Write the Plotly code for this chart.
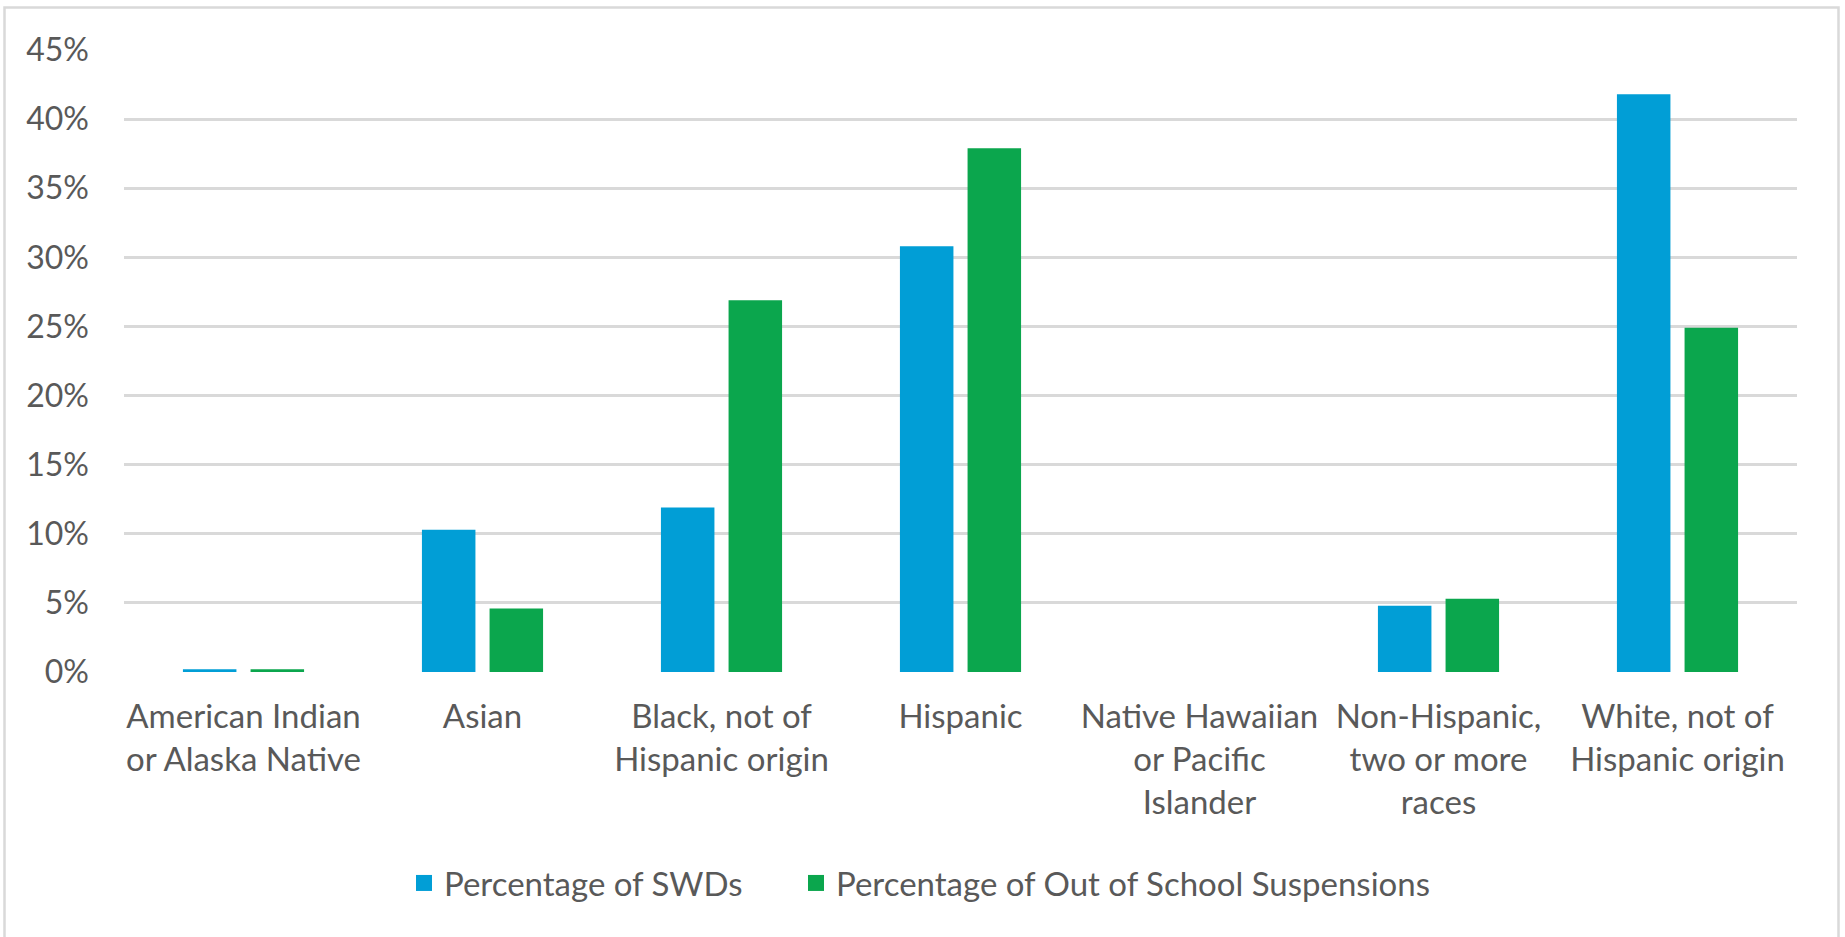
import plotly.graph_objects as go

# Race / ethnicity groups (x-axis categories, line-broken as printed)
categories = [
    "American Indian<br>or Alaska Native",
    "Asian",
    "Black, not of<br>Hispanic origin",
    "Hispanic",
    "Native Hawaiian<br>or Pacific<br>Islander",
    "Non-Hispanic,<br>two or more<br>races",
    "White, not of<br>Hispanic origin",
]

# Percent values per group
pct_swds = [0.2, 10.3, 11.9, 30.8, 0.0, 4.8, 41.8]
pct_suspensions = [0.2, 4.6, 26.9, 37.9, 0.0, 5.3, 24.9]

series_names = ["Percentage of SWDs", "Percentage of Out of School Suspensions"]
series_colors = ["#019ED6", "#0BA64D"]
y_ticks = [0, 5, 10, 15, 20, 25, 30, 35, 40, 45]
y_tick_labels = [f"{v}%" for v in y_ticks]

W, H = 1845, 937
ML, MR, MT, MB = 124, 48, 50, 265
FONT = "Lato, 'Open Sans', sans-serif"
TEXT_COLOR = "#595959"
GRID = "#d9d9d9"

fig = go.Figure()
for vals, name, color in zip([pct_swds, pct_suspensions], series_names, series_colors):
    fig.add_trace(go.Bar(x=categories, y=vals, name=name, showlegend=False,
                         marker=dict(color=color, line=dict(width=0))))

# Legend keys: square swatches, one legend per series so each can be placed
legend_names = ["legend", "legend2"]
legend_left_px = [404, 796]
for name, color, lg in zip(series_names, series_colors, legend_names):
    fig.add_trace(go.Scatter(x=[None], y=[None], mode="markers", name=name,
                             legend=lg, showlegend=True,
                             marker=dict(symbol="square", size=16, color=color,
                                         line=dict(width=0))))

# Outer chart border, expressed in paper coordinates
pw = W - ML - MR
ph = H - MT - MB
def px_to_paper_x(px):
    return (px - ML) / pw
def px_to_paper_y(py):
    return (H - MB - py) / ph

fig.add_shape(type="rect", xref="paper", yref="paper",
              x0=px_to_paper_x(4.5), x1=px_to_paper_x(1838.5),
              y0=px_to_paper_y(950), y1=px_to_paper_y(7.5),
              line=dict(color=GRID, width=2.5), fillcolor="rgba(0,0,0,0)",
              layer="below")

legend_style = dict(orientation="h", xref="container", yref="container",
                    xanchor="left", y=1 - 883 / H, yanchor="middle",
                    font=dict(size=33, color=TEXT_COLOR),
                    itemsizing="trace", bgcolor="rgba(0,0,0,0)", borderwidth=0)

fig.update_layout(
    width=W, height=H,
    margin=dict(l=ML, r=MR, t=MT, b=MB, pad=0),
    paper_bgcolor="white", plot_bgcolor="white",
    barmode="group", bargap=0.434, bargroupgap=0.209,
    font=dict(family=FONT, size=32, color=TEXT_COLOR),
    showlegend=True,
    legend=dict(x=legend_left_px[0] / W, **legend_style),
    legend2=dict(x=legend_left_px[1] / W, **legend_style),
    xaxis=dict(showgrid=False, showline=False, zeroline=False,
               ticks="", tickfont=dict(size=33, color=TEXT_COLOR),
               ticklabelstandoff=22, tickangle=0),
    yaxis=dict(range=[0, 45], tickvals=y_ticks, ticktext=y_tick_labels,
               showgrid=True, gridcolor=GRID, gridwidth=3,
               zeroline=False, showline=False, ticks="",
               tickfont=dict(size=32, color=TEXT_COLOR),
               ticklabelstandoff=34),
)

fig.write_html("out.html")
